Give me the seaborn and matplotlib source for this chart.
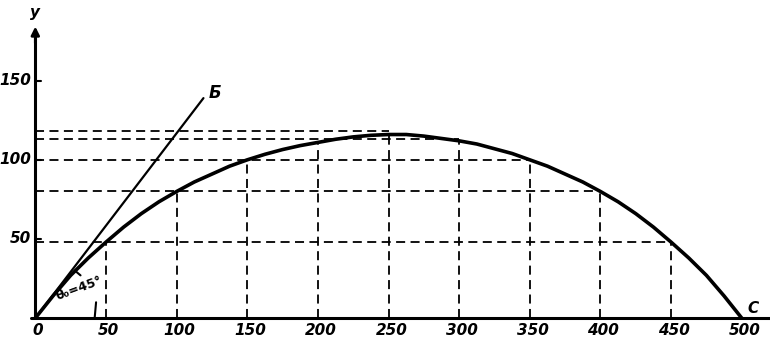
import numpy as np
import pandas as pd
import matplotlib
matplotlib.use('Agg')
import matplotlib.pyplot as plt
import seaborn as sns

# trajectory
x_pts = [0, 12.5, 25, 37.5, 50, 62.5, 75, 87.5, 100, 112.5, 125, 137.5, 150, 162.5, 175, 187.5,
         200, 212.5, 225, 237.5, 250, 262.5, 275, 287.5, 300, 312.5, 325, 337.5, 350, 362.5,
         375, 387.5, 400, 412.5, 425, 437.5, 450, 462.5, 475, 487.5, 500]
y_pts = [0, 14, 27, 38, 48, 57.5, 66, 73.5, 80, 86, 91, 96, 100, 103.5, 106.5, 109,
         111, 113, 114.5, 115.5, 116, 116, 115, 113.5, 112, 110, 107, 104, 100, 96,
         91, 86, 80, 73.5, 66, 57.5, 48, 38, 27, 14, 0]

# launch direction line "Б"
b_x = [0, 119]
b_y = [0, 139]

# dashed construction lines
v_x = [50, 100, 150, 200, 250, 300, 350, 400, 450]
v_top = [48, 80, 100, 111, 118, 112, 100, 80, 48]
h_y = [48, 80, 100, 113, 118]
h_end = [450, 400, 350, 300, 250]

x_ticks = [0, 50, 100, 150, 200, 250, 300, 350, 400, 450, 500]
y_ticks = [50, 100, 150]

sns.set_theme(style='white')
plt.rcParams['font.family'] = ['DejaVu Sans']
plt.rcParams['text.color'] = 'black'

fig = plt.figure(figsize=(7.7, 3.45), dpi=100)
ax = fig.add_axes([0, 0, 1, 1])

traj = pd.DataFrame({'x': x_pts, 'y': y_pts})
sns.lineplot(data=traj, x='x', y='y', ax=ax, color='black', linewidth=2.6, sort=False)
ax.plot(b_x, b_y, color='black', linewidth=1.6)

dash = dict(color='black', linewidth=1.3, linestyles=(0, (5, 3)))
ax.vlines(v_x, 0, v_top, **dash)
ax.hlines(h_y, 0, h_end, **dash)

# axes drawn by hand
ax.plot([0, 0], [0, 180], color='black', linewidth=2.2)
ax.annotate('', xy=(0, 186), xytext=(0, 172),
            arrowprops=dict(arrowstyle='-|>', color='black', lw=2, mutation_scale=12))
ax.plot([-3, 530], [0, 0], color='black', linewidth=2.2)
for t in y_ticks:
    ax.plot([0, 4], [t, t], color='black', linewidth=1.5)

lab = dict(fontsize=11, fontweight='bold', fontstyle='italic', color='black')
for t in x_ticks:
    ax.text(t + 2, -8, str(t), ha='center', va='center', **lab)
for t in y_ticks:
    ax.text(-3, t, str(t), ha='right', va='center', **lab)
ax.text(0, 193, 'y', ha='center', va='center', **lab)
ax.text(123, 142, 'Б', ha='left', va='center', fontsize=12, fontweight='bold',
        fontstyle='italic', color='black')
ax.text(504, 6, 'C', ha='left', va='center', fontsize=11, fontweight='bold',
        fontstyle='italic', color='black')
ax.text(31, 19, 'θ₀=45°', ha='center', va='center', rotation=20, fontsize=9,
        fontweight='bold', color='black')
# small marks of the angle arc
ax.plot([28, 32], [30, 27], color='black', linewidth=1.5)
ax.plot([43, 42], [10, 0], color='black', linewidth=1.5)

ax.set_xlim(-25, 520)
ax.set_ylim(-17, 201)
ax.set_xlabel('')
ax.set_ylabel('')
ax.set_xticks([])
ax.set_yticks([])
for s in ax.spines.values():
    s.set_visible(False)

fig.savefig('out.png', dpi=100)
